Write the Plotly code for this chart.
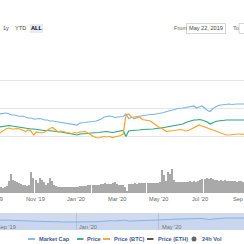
import pandas as pd
import plotly.graph_objects as go

W = H = 244

# ---------------- data ----------------
line_start = "2019-09-08"   # every 4 days
market_cap = [50, 50.5, 51, 51, 50, 49, 49, 48, 47.5, 48, 47, 46, 46, 45, 45, 45.5, 45, 44, 44, 43,
              43, 42.5, 42, 42, 41, 41, 40, 40, 39, 39, 41, 41, 41.5, 42, 42, 42.5, 43, 44, 45, 47,
              47.5, 48, 47.5, 46.5, 47, 47, 47.5, 50, 45.5, 46.5, 47, 47.5, 48, 48, 48.5, 49, 49.5, 49.5, 50, 50.5,
              50.5, 51.5, 52.5, 53, 54, 54.5, 55.5, 55.5, 56, 56.5, 57, 58, 58, 56, 57, 58, 56, 53.5, 52.5, 55.5,
              57, 58.5, 59, 59.5, 60, 60, 59.5, 60, 60, 60, 60, 60]
price_usd = [37, 37.5, 38, 38, 38.5, 38, 37.5, 37, 37, 36.5, 36, 35.5, 35, 35, 34.5, 34, 34, 33.5, 33.5, 33.5,
             33, 32.5, 32.5, 32, 31.5, 31, 30.5, 30, 29.5, 29, 30, 30, 30.5, 30.5, 31, 31, 31.5, 31.5, 32, 32.5,
             32.5, 32, 31.5, 32, 32.5, 32.5, 33.5, 27.5, 33, 33.5, 33.5, 34, 34, 34.5, 34.5, 34.5, 35, 35, 35.5, 35.5,
             36, 36.5, 37, 37.5, 37.5, 38, 38.5, 39, 40, 41.5, 42.5, 43.5, 44, 44, 44.5, 44, 43, 42, 40, 41.5,
             42.5, 43, 43.5, 44, 44, 44, 44, 44, 44, 44, 44, 44]
price_btc = [30, 32, 34, 35.5, 36, 35, 35, 35.5, 35, 34, 32.5, 34, 33, 29, 32, 31.5, 31, 32, 34, 35.5,
             36.5, 34, 32, 33, 32.5, 31.5, 31, 30.5, 31.5, 31, 32, 32.5, 32.5, 31, 29, 27.5, 26.5, 26, 27, 27.5,
             27, 27.5, 26.5, 27, 28, 28.5, 30, 49, 50, 47, 45.5, 46.5, 47, 44.5, 44, 43.5, 43, 41, 38.5, 37,
             36, 34, 32.5, 33, 33, 33.5, 34, 34.5, 34, 33, 33.5, 35, 36, 38, 39, 38, 37, 35.5, 34.5, 33.5,
             32.5, 31.5, 30.5, 30, 29, 29, 29.5, 30, 30, 30, 29.5, 29.5]

vol_start = "2019-09-09"    # every 3 days
volume_24h = [6, 6, 5.5, 6.5, 7, 12, 19, 13, 12, 11, 10, 9, 8, 8, 7.5, 8.5, 21, 15, 13, 10,
              15, 13, 11, 8, 10, 15, 12, 8, 7, 6.5, 6, 6.5, 6, 6, 6.5, 6, 6, 6.5, 6, 6.5,
              7, 7, 7.5, 7.5, 8, 8, 8, 8.5, 8, 8.5, 9, 9, 10, 9, 9, 9.5, 10, 11.5, 9, 8.5,
              8.5, 8, 6, 1.5, 9, 9.5, 9.5, 10, 9.5, 10, 10, 10, 10.5, 10, 10.5, 10.5, 10, 10.5, 10, 11,
              23.5, 18, 12, 21, 19, 24.5, 13, 11, 11.5, 11, 11.5, 11, 11.5, 11, 12, 11.5, 12, 11.5, 12.5, 13,
              14, 14.5, 15, 14.5, 15, 14, 13, 13.5, 12.5, 13, 12.5, 13, 12, 12.5, 12, 12.5, 12, 11.5, 12, 12,
              11.5]

main_ticks = ["2019-09-01", "2019-11-01", "2020-01-01", "2020-03-01", "2020-05-01", "2020-07-01", "2020-09-01"]
main_tick_text = ["Sep '19", "Nov '19", "Jan '20", "Mar '20", "May '20", "Jul '20", "Sep '20"]
nav_ticks = ["2019-09-01", "2020-01-01", "2020-05-01"]
nav_tick_text = ["Sep '19", "Jan '20", "May '20"]

legend_labels = ["Market Cap", "Price", "Price (BTC)", "Price (ETH)", "24h Vol"]
range_buttons = ["1y", "YTD", "ALL"]
from_date, to_date = "May 22, 2019", "Sep 4, 2020"

line_dates = pd.date_range(line_start, periods=len(market_cap), freq="4D")
vol_dates = pd.date_range(vol_start, periods=len(volume_24h), freq="3D")

C_MC, C_P, C_BTC, C_ETH, C_VOL = "#7cb5ec", "#2fa87a", "#f7a32a", "#434348", "#a9a9a9"
FONT = "Liberation Sans"
FS = 5.6

xr = ["2019-09-10 10:00", "2020-09-03 22:00"]
t0, t1 = pd.Timestamp(xr[0]), pd.Timestamp(xr[1])

def date_frac(d):
    return (pd.Timestamp(d) - t0) / (t1 - t0)

def px(x):
    return x / W

def py(y):
    return 1 - y / H

fig = go.Figure()
fig.add_trace(go.Scatter(x=line_dates, y=market_cap, mode="lines", line=dict(color=C_MC, width=1.2),
                         xaxis="x", yaxis="y", name="Market Cap"))
fig.add_trace(go.Scatter(x=line_dates, y=price_usd, mode="lines", line=dict(color=C_P, width=1.2),
                         xaxis="x", yaxis="y", name="Price"))
fig.add_trace(go.Scatter(x=line_dates, y=price_btc, mode="lines", line=dict(color=C_BTC, width=1.2),
                         xaxis="x", yaxis="y", name="Price (BTC)"))
fig.add_trace(go.Bar(x=vol_dates, y=volume_24h, marker=dict(color=C_VOL, line=dict(width=0)),
                     width=2 * 86400000, xaxis="x", yaxis="y2", name="24h Vol"))
# navigator
fig.add_trace(go.Scatter(x=line_dates, y=market_cap, mode="lines", line=dict(color=C_MC, width=1),
                         fill="tozeroy", fillcolor="rgba(124,181,236,0.08)",
                         xaxis="x2", yaxis="y3", name="nav"))

fig.update_layout(
    width=W, height=H, margin=dict(l=0, r=0, t=0, b=0),
    paper_bgcolor="white", plot_bgcolor="rgba(0,0,0,0)", showlegend=False, bargap=0,
    font=dict(family=FONT, size=FS, color="#666"),
    xaxis=dict(domain=[0, 1], range=xr, anchor="y2", showgrid=False, zeroline=False,
               showticklabels=False, ticks="", showline=False),
    yaxis=dict(domain=[py(164), py(52)], range=[0, 112.001], dtick=28, tick0=0, showgrid=True,
               gridcolor="#e6e6e6", gridwidth=1, zeroline=False, showticklabels=False),
    yaxis2=dict(domain=[py(193), py(164)], range=[0, 29], showgrid=False, zeroline=False,
                showticklabels=False),
    xaxis2=dict(domain=[0, 1], range=xr, anchor="y3", showgrid=True, gridcolor="#b9c3d9",
                tickmode="array", tickvals=nav_ticks, showticklabels=False,
                ticks="", zeroline=False, showline=False),
    yaxis3=dict(domain=[py(230), py(213)], range=[4, 83.3], showgrid=False, zeroline=False,
                showticklabels=False),
)

shapes = []
ann = []
# x-axis tick labels (annotations so the edge labels show clipped, like the reference)
for tv, tt in zip(main_ticks, main_tick_text):
    ann.append(dict(text=tt, x=date_frac(tv), xref="paper", y=py(198.5), yref="paper", showarrow=False,
                    xanchor="center", yanchor="middle", font=dict(size=FS, color="#666")))
for tv, tt in zip(nav_ticks, nav_tick_text):
    ann.append(dict(text=tt, x=date_frac(tv), xref="paper", y=py(226.5), yref="paper", showarrow=False,
                    xanchor="left", yanchor="middle", xshift=1, font=dict(size=FS, color="#777")))

# navigator mask
shapes.append(dict(type="rect", xref="paper", yref="paper", x0=0, x1=1, y0=py(230), y1=py(213),
                   fillcolor="rgba(102,133,194,0.3)", line=dict(width=0), layer="below"))

# range buttons
btn_x = [6, 20.5, 36.5]
shapes.append(dict(type="rect", xref="paper", yref="paper", x0=px(30), x1=px(43), y0=py(33), y1=py(24),
                   fillcolor="#e6ebf5", line=dict(width=0), layer="below"))
for lab, bx in zip(range_buttons, btn_x):
    ann.append(dict(text=lab, x=px(bx), y=py(28.5), xref="paper", yref="paper", showarrow=False,
                    xanchor="center", yanchor="middle",
                    font=dict(size=FS, color="#000" if lab == "ALL" else "#444",
                              weight="bold" if lab == "ALL" else "normal")))
# from / to inputs
ann.append(dict(text="From", x=px(171.5), y=py(28.5), xref="paper", yref="paper", showarrow=False,
                xanchor="left", yanchor="middle", font=dict(size=FS, color="#666")))
shapes.append(dict(type="rect", xref="paper", yref="paper", x0=px(186.5), x1=px(225.5), y0=py(33.5), y1=py(23.5),
                   fillcolor="white", line=dict(width=0.8, color="#cccccc")))
ann.append(dict(text=from_date, x=px(206), y=py(28.5), xref="paper", yref="paper", showarrow=False,
                xanchor="center", yanchor="middle", font=dict(size=FS, color="#444")))
ann.append(dict(text="To", x=px(231), y=py(28.5), xref="paper", yref="paper", showarrow=False,
                xanchor="left", yanchor="middle", font=dict(size=FS, color="#666")))
shapes.append(dict(type="rect", xref="paper", yref="paper", x0=px(239), x1=px(280), y0=py(33.5), y1=py(23.5),
                   fillcolor="white", line=dict(width=0.8, color="#cccccc")))
ann.append(dict(text=to_date, x=px(242), y=py(28.5), xref="paper", yref="paper", showarrow=False,
                xanchor="left", yanchor="middle", font=dict(size=FS, color="#444")))

# legend
leg_colors = [C_MC, C_P, C_BTC, C_ETH, C_VOL]
sym_x = [(28, 35), (77, 83.5), (103, 110), (147, 153.5), (194, 194)]
txt_x = [37, 85, 112, 155.5, 199.5]
LY = 239
for lab, col, (s0, s1), tx in zip(legend_labels, leg_colors, sym_x, txt_x):
    if lab == "24h Vol":
        shapes.append(dict(type="circle", xref="paper", yref="paper", x0=px(s0 - 2.5), x1=px(s0 + 2.5),
                           y0=py(LY + 2.5), y1=py(LY - 2.5), fillcolor="#666", line=dict(width=0)))
    else:
        shapes.append(dict(type="line", xref="paper", yref="paper", x0=px(s0), x1=px(s1),
                           y0=py(LY), y1=py(LY), line=dict(color=col, width=1.8)))
    ann.append(dict(text=lab, x=px(tx), y=py(LY), xref="paper", yref="paper", showarrow=False,
                    xanchor="left", yanchor="middle",
                    font=dict(size=FS, color="#3d5a99", weight="bold")))

fig.update_layout(shapes=shapes, annotations=ann)
fig.write_html("out.html")
